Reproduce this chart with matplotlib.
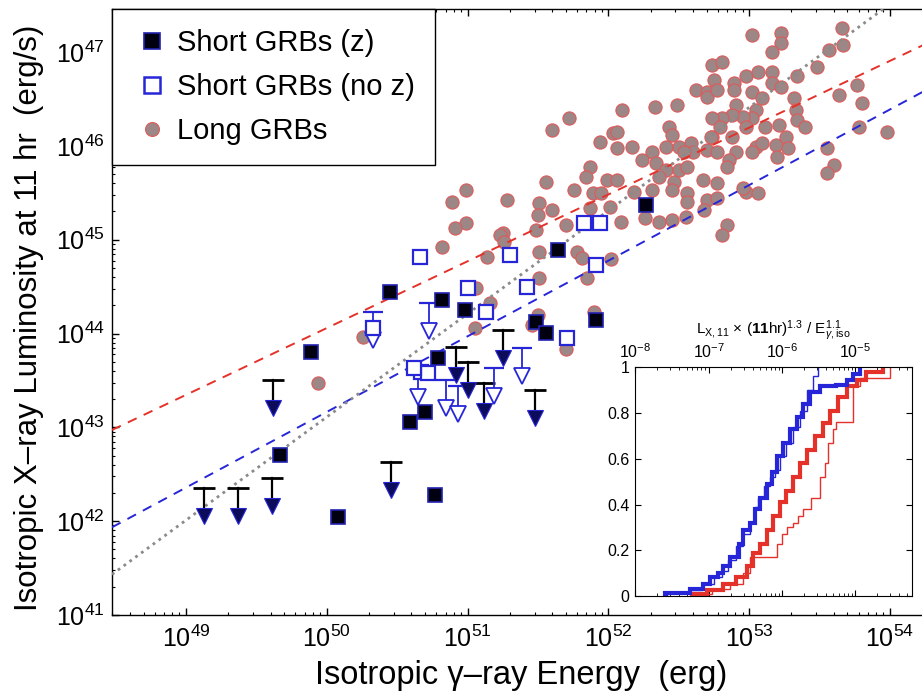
import matplotlib.pyplot as plt
from matplotlib.lines import Line2D
import numpy as np

plt.rcParams['font.family'] = ['Liberation Sans', 'DejaVu Sans']
plt.rcParams['mathtext.fontset'] = 'custom'
plt.rcParams['mathtext.rm'] = 'Liberation Sans'
plt.rcParams['mathtext.it'] = 'Liberation Sans:italic'
plt.rcParams['mathtext.bf'] = 'Liberation Sans:bold'

# ---- data (log10 values) ----
long_logE = [53.02, 53.23, 53.23, 53.16, 53.66, 53.67, 53.57, 53.48, 53.34, 52.74,
             52.81, 52.75, 52.89, 52.98, 53.06, 53.16, 53.16, 53.23, 52.62, 52.70,
             52.70, 52.77, 52.89, 53.02, 53.09, 53.32, 53.64, 53.77, 53.80, 53.98,
             53.78, 52.91, 53.05, 53.33, 53.34, 53.40, 53.21, 53.11, 53.02, 52.96,
             52.88, 52.81, 52.74, 52.79, 52.74, 52.88, 52.98, 53.05, 53.09, 53.02,
             53.19, 53.26, 53.28, 53.20, 53.55, 53.60, 53.55, 52.10, 52.33, 52.49,
             51.72, 51.60, 51.94, 52.03, 52.06, 52.06, 52.17, 52.43, 52.45, 52.41,
             52.50, 52.59, 52.60, 52.54, 52.73, 52.70, 52.77, 52.91, 52.86, 52.84,
             52.31, 52.34, 52.24, 52.41, 52.50, 52.56, 52.67, 52.77, 52.47, 52.36,
             51.87, 51.84, 51.56, 51.76, 51.99, 52.06, 51.89, 51.95, 52.18, 52.31,
             52.45, 52.56, 51.28, 51.51, 51.60, 51.50, 51.87, 52.01, 52.56, 52.70,
             52.68, 52.77, 52.98, 53.06, 51.49, 51.25, 51.70, 52.09, 52.26, 52.36,
             52.45, 52.55, 52.84, 52.81, 51.51, 51.78, 51.81, 52.02, 51.51, 51.85,
             52.96,
             50.99, 50.89, 50.99, 50.91, 51.23, 51.26, 50.82, 51.14,
             51.06, 51.16, 51.05, 51.46, 51.50, 51.90, 51.70, 50.26, 49.94]
long_logL = [47.18, 47.20, 47.10, 47.00, 47.26, 47.08, 47.02, 46.84, 46.74, 46.86,
             46.89, 46.70, 46.67, 46.74, 46.79, 46.79, 46.67, 46.63, 46.60, 46.58,
             46.52, 46.60, 46.60, 46.57, 46.51, 46.51, 46.54, 46.65, 46.46, 46.15,
             46.20, 46.44, 46.38, 46.38, 46.28, 46.20, 46.22, 46.20, 46.30, 46.31,
             46.33, 46.30, 46.30, 46.20, 46.10, 46.10, 46.20, 45.99, 46.03, 45.93,
             46.01, 46.10, 45.98, 45.88, 45.98, 45.80, 45.71, 46.38, 46.41, 46.44,
             46.30, 46.17, 46.04, 46.14, 46.15, 45.98, 45.99, 46.20, 46.12, 45.99,
             45.99, 46.03, 45.94, 45.93, 46.09, 45.96, 45.94, 45.93, 45.85, 45.78,
             45.93, 45.82, 45.85, 45.74, 45.74, 45.77, 45.64, 45.61, 45.62, 45.67,
             45.78, 45.67, 45.62, 45.53, 45.64, 45.64, 45.50, 45.50, 45.51, 45.53,
             45.53, 45.50, 45.42, 45.39, 45.32, 45.26, 45.34, 45.35, 45.40, 45.42,
             45.32, 45.45, 45.51, 45.50, 45.10, 45.07, 45.16, 45.19, 45.23, 45.19,
             45.21, 45.24, 45.16, 45.05, 44.87, 44.87, 44.81, 44.79, 44.59, 44.59,
             45.55,
             45.53, 45.40, 45.18, 45.13, 45.05, 44.98, 44.92, 44.82,
             44.49, 44.33, 44.06, 44.09, 44.20, 44.23, 43.83, 43.96, 43.47]

short_z_logE = [49.89, 50.45, 49.67, 50.08, 50.59, 50.70, 50.82, 50.98, 50.79,
                51.49, 51.56, 51.91, 50.77, 51.64, 52.27]
short_z_logL = [43.80, 44.44, 42.71, 42.04, 43.06, 43.16, 44.36, 44.25, 43.74,
                44.12, 44.01, 44.14, 42.28, 44.89, 45.37]

short_noz_logE = [50.66, 51.30, 51.91, 51.00, 51.42, 51.13, 50.33, 51.71, 50.67,
                  50.72, 50.62, 51.83, 51.94]
short_noz_logL = [44.82, 44.84, 44.73, 44.49, 44.50, 44.23, 44.06, 43.95, 43.59,
                  43.58, 43.63, 45.18, 45.18]

# upper limits (value of the bar)
lim_z_logE = [50.92, 51.00, 51.12, 51.25, 51.48, 50.46, 49.62, 49.13, 49.37, 49.61]
lim_z_logL = [43.86, 43.70, 43.47, 44.04, 43.40, 42.63, 43.51, 42.35, 42.35, 42.46]
lim_noz_logE = [50.33, 50.73, 50.65, 50.85, 50.93, 51.19, 51.39]
lim_noz_logL = [44.23, 44.33, 43.62, 43.51, 43.44, 43.63, 43.85]

# correlation lines: log L = a + b * (log E - 51)
fit_long = (44.77, 0.712)
fit_short = (43.97, 0.806)
fit_ratio = (44.21, 1.1)

# inset cumulative distributions, log10 of L_X,11 (11hr)^1.3 / E^1.1
cdf_blue_thick_x = [-7.59, -7.25, -7.07, -6.98, -6.87, -6.80, -6.71, -6.59, -6.53, -6.44,
                    -6.37, -6.30, -6.21, -6.14, -6.07, -5.98, -5.89, -5.80, -5.71, -5.62,
                    -5.48, -5.26, -5.12, -5.03, -4.94]
cdf_blue_thick_y = [0.015, 0.03, 0.055, 0.085, 0.10, 0.13, 0.17, 0.23, 0.29, 0.32,
                    0.38, 0.43, 0.49, 0.54, 0.61, 0.67, 0.73, 0.78, 0.84, 0.89,
                    0.915, 0.92, 0.945, 0.97, 1.0]
cdf_blue_thin_x = [-7.57, -7.25, -7.09, -6.93, -6.82, -6.73, -6.62, -6.53, -6.44, -6.37,
                   -6.32, -6.25, -6.16, -6.10, -6.03, -5.94, -5.85, -5.76, -5.66, -5.57,
                   -5.51]
cdf_blue_thin_y = [0.012, 0.026, 0.055, 0.085, 0.11, 0.16, 0.22, 0.27, 0.32, 0.39,
                   0.43, 0.48, 0.52, 0.55, 0.61, 0.67, 0.74, 0.81, 0.90, 0.96,
                   1.0]
cdf_red_thick_x = [-7.23, -7.02, -6.80, -6.62, -6.48, -6.39, -6.30, -6.21, -6.12, -6.03,
                   -5.94, -5.85, -5.76, -5.66, -5.55, -5.44, -5.35, -5.23, -5.12, -4.98,
                   -4.85, -4.62]
cdf_red_thick_y = [0.01, 0.026, 0.055, 0.085, 0.13, 0.19, 0.23, 0.29, 0.35, 0.41,
                   0.46, 0.52, 0.58, 0.64, 0.70, 0.755, 0.81, 0.87, 0.915, 0.945,
                   0.98, 1.0]
cdf_red_thin_x = [-7.12, -6.95, -6.71, -6.53, -6.44, -6.07, -6.00, -5.93, -5.85, -5.78,
                  -5.71, -5.60, -5.48, -5.41, -5.37, -5.30, -5.26, -5.03, -4.94, -4.53]
cdf_red_thin_y = [0.01, 0.03, 0.055, 0.10, 0.17, 0.23, 0.27, 0.30, 0.32, 0.35,
                  0.38, 0.43, 0.52, 0.58, 0.67, 0.73, 0.76, 0.915, 0.95, 1.0]

ARROW_DEX = 0.30

RED = '#e4322a'
BLUE = '#2626d8'
NAVY = '#0c0c5a'

fig = plt.figure(figsize=(9.22, 6.99), dpi=100)
ax = fig.add_axes([0.1215, 0.1202, 0.887, 0.867])
ax.set_xscale('log')
ax.set_yscale('log')
xlo, xhi = 48.475, 54.284
ax.set_xlim(10**xlo, 10**xhi)
ax.set_ylim(1e41, 10**47.46)

xe = np.array([xlo, xhi])
for (a, b), col, ls, lw in [(fit_long, RED, (0, (5, 4)), 1.4),
                            (fit_short, BLUE, (0, (5, 4)), 1.4),
                            (fit_ratio, '#8a8a8a', (0, (1, 1.6)), 2.0)]:
    ax.plot(10**xe, 10**(a + b * (xe - 51)), color=col, ls=ls, lw=lw, zorder=3)

ax.plot(10**np.array(long_logE), 10**np.array(long_logL), ls='none', marker='o', ms=9.5,
        mfc='#9c8686', mec='#e05a5a', mew=0.8, zorder=2)

# upper limits
for le, ll in zip(lim_z_logE, lim_z_logL):
    e = 10**le
    ax.plot([e, e], [10**ll, 10**(ll - ARROW_DEX)], color='black', lw=1.6, zorder=4)
    ax.plot([e], [10**ll], marker='_', ms=16, mew=2.0, color='black', zorder=4)
    ax.plot([e], [10**(ll - ARROW_DEX)], marker='v', ms=11, mfc=NAVY, mec=BLUE, mew=0.8, zorder=5)
for le, ll in zip(lim_noz_logE, lim_noz_logL):
    e = 10**le
    ax.plot([e, e], [10**ll, 10**(ll - ARROW_DEX)], color=BLUE, lw=1.3, zorder=4)
    ax.plot([e], [10**ll], marker='_', ms=14, mew=1.6, color=BLUE, zorder=4)
    ax.plot([e], [10**(ll - ARROW_DEX)], marker='v', ms=11, mfc='white', mec=BLUE, mew=1.3, zorder=5)

ax.plot(10**np.array(short_noz_logE), 10**np.array(short_noz_logL), ls='none', marker='s',
        ms=10.5, mfc='white', mec=BLUE, mew=1.6, zorder=6)
ax.plot(10**np.array(short_z_logE), 10**np.array(short_z_logL), ls='none', marker='s',
        ms=10.5, mfc='#000010', mec='#2222b0', mew=1.2, zorder=6)

ax.tick_params(which='both', direction='in', top=True, right=True, labelsize=18)
ax.tick_params(axis='x', pad=8)
ax.tick_params(axis='y', pad=5)
ax.tick_params(which='major', length=5, width=1)
ax.tick_params(which='minor', length=2.5, width=0.8)
for sp in ax.spines.values():
    sp.set_linewidth(1.0)

ax.set_xlabel('Isotropic \u03b3\u2013ray Energy  (erg)', fontsize=23.5)
ax.set_ylabel('Isotropic X\u2013ray Luminosity at 11 hr  (erg/s)', fontsize=22.5)
ax.xaxis.set_label_coords(0.5, -0.074)
ax.yaxis.set_label_coords(-0.083, 0.49)

handles = [Line2D([], [], ls='none', marker='s', ms=12, mfc='#000010', mec='#2222b0', mew=1.2),
           Line2D([], [], ls='none', marker='s', ms=12, mfc='white', mec=BLUE, mew=1.8),
           Line2D([], [], ls='none', marker='o', ms=10, mfc='#9c8686', mec='#e05a5a', mew=0.8)]
labels = ['Short GRBs (z)', 'Short GRBs (no z)', 'Long GRBs']
leg = ax.legend(handles, labels, loc='upper left', borderaxespad=0, fancybox=False,
                edgecolor='black', framealpha=1, fontsize=21, handlelength=1.35,
                handletextpad=0.2, labelspacing=0.56, borderpad=0.68)
leg.get_frame().set_linewidth(1.0)
leg.set_zorder(10)

# ---- inset ----
axi = fig.add_axes([0.689, 0.147, 0.3004, 0.328])
axi.set_xscale('log')
axi.set_xlim(1e-8, 10**-4.224)
axi.set_ylim(0, 1)
for xs, ys, col, lw in [(cdf_red_thin_x, cdf_red_thin_y, RED, 1.0),
                        (cdf_blue_thin_x, cdf_blue_thin_y, BLUE, 1.0),
                        (cdf_red_thick_x, cdf_red_thick_y, RED, 3.0),
                        (cdf_blue_thick_x, cdf_blue_thick_y, BLUE, 3.0)]:
    xv = np.concatenate([[xs[0]], xs])
    yv = np.concatenate([[0.0], ys])
    axi.step(10**xv, yv, where='post', color=col, lw=lw, solid_joinstyle='miter')

axi.set_yticks([0, 0.2, 0.4, 0.6, 0.8, 1])
axi.set_yticklabels(['0', '0.2', '0.4', '0.6', '0.8', '1'])
axi.set_xticks([1e-8, 1e-7, 1e-6, 1e-5])
axi.tick_params(which='both', direction='in', top=True, bottom=True, right=True,
                labeltop=True, labelbottom=False, labelsize=11.5, pad=4)
axi.tick_params(which='major', length=4)
axi.tick_params(which='minor', length=2)
inset_title = (r'$\mathrm{L_{X,11}}$' + ' \u00d7 (' + r'$\mathbf{11}$' + 'hr)'
               + r'$^{1.3}$' + ' / E' + r'$^{1.1}_{\gamma,\mathrm{iso}}$')
axi.text(0.5, 1.16, inset_title, transform=axi.transAxes, ha='center', va='center',
         fontsize=11)

fig.savefig('out.png', dpi=100)
